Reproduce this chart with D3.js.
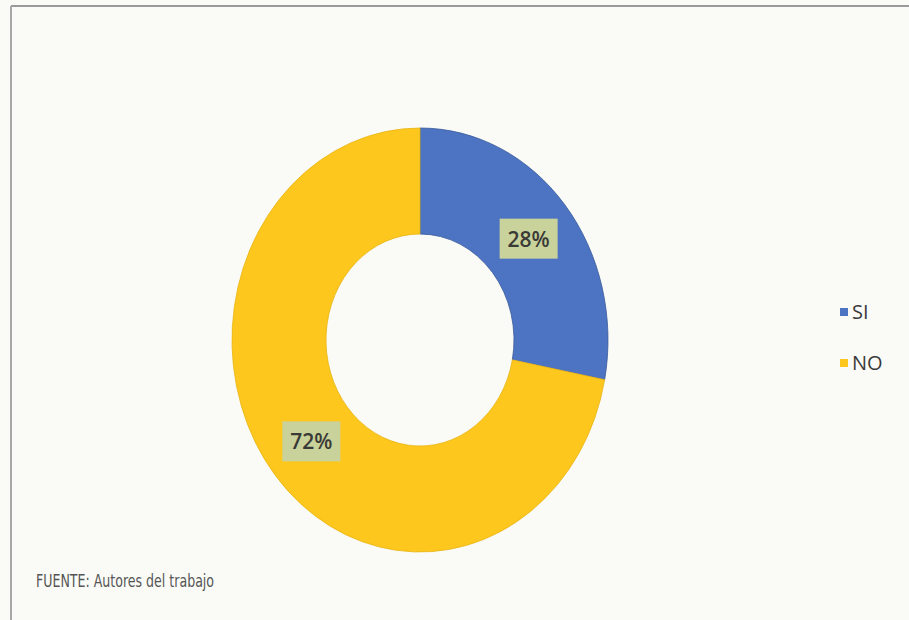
<!DOCTYPE html>
<html>
<head>
<meta charset="utf-8">
<script src="https://cdn.jsdelivr.net/npm/d3@7/dist/d3.min.js"></script>
<style>
  html, body { margin: 0; padding: 0; background: #fafbf6; }
  svg { display: block; }
</style>
</head>
<body>
<svg id="chart" width="909" height="620"></svg>
<script>
const categories = ["SI", "NO"];
const values = [28, 72];
const labels = ["28%", "72%"];
const colors = ["#4d74c2", "#fdc71d"];

const svg = d3.select("#chart");

// frame
svg.append("line").attr("x1", 11).attr("y1", 6).attr("x2", 909).attr("y2", 6)
  .attr("stroke", "#9a9a9a").attr("stroke-width", 2);
svg.append("line").attr("x1", 11).attr("y1", 6).attr("x2", 11).attr("y2", 620)
  .attr("stroke", "#a8a8a8").attr("stroke-width", 2);

const cx = 420, cy = 340;
const rOuter = 188, rInner = 94;
const sy = 212 / 188;

const pie = d3.pie().sort(null).value(d => d)(values);
const arc = d3.arc().innerRadius(rInner).outerRadius(rOuter);

const g = svg.append("g").attr("transform", `translate(${cx},${cy}) scale(1,${sy})`);
g.selectAll("path").data(pie).enter().append("path")
  .attr("d", arc)
  .attr("fill", (d, i) => colors[i])
  .attr("stroke", (d, i) => i === 0 ? "#3a5a9a" : "#e8b414")
  .attr("stroke-width", 0.8)
  .attr("vector-effect", "non-scaling-stroke");

// labels
const lg = svg.append("g");
pie.forEach((d, i) => {
  const [x, y] = arc.centroid(d);
  const px = cx + x, py = cy + y * sy;
  lg.append("rect").attr("x", px - 29).attr("y", py - 20).attr("width", 58).attr("height", 40)
    .attr("fill", "#c9d29b");
  lg.append("text").attr("x", px).attr("y", py + 8)
    .attr("text-anchor", "middle")
    .attr("font-family", "'Open Sans', 'Noto Sans', sans-serif")
    .attr("font-size", 21).attr("font-weight", 600).attr("fill", "#3a3a36")
    .text(labels[i]);
});

// legend
const leg = svg.append("g");
categories.forEach((c, i) => {
  const y = 312 + i * 51;
  leg.append("rect").attr("x", 840).attr("y", y - 4).attr("width", 8).attr("height", 8)
    .attr("fill", colors[i]);
  leg.append("text").attr("x", 852).attr("y", y + 7)
    .attr("font-family", "'Open Sans', 'Noto Sans', sans-serif")
    .attr("font-size", 20).attr("fill", "#3a3a3a")
    .text(c);
});

// footer (condensed via horizontal scale)
const ft = svg.append("text")
  .attr("transform", "translate(36,587) scale(0.7,1)")
  .attr("font-family", "'DejaVu Sans', sans-serif")
  .attr("font-size", 18).attr("fill", "#555")
  .text("FUENTE: Autores del trabajo");
</script>
</body>
</html>
